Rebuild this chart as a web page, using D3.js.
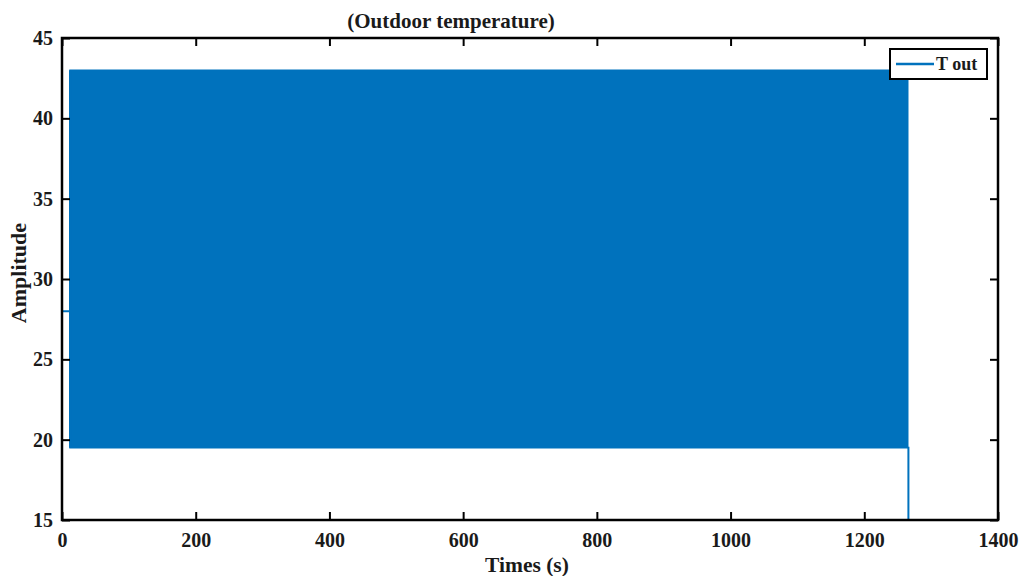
<!DOCTYPE html>
<html>
<head>
<meta charset="utf-8">
<script src="https://cdn.jsdelivr.net/npm/d3@7"></script>
<style>
  body { margin: 0; background: #fff; }
  text { font-family: "Liberation Serif", "Times New Roman", serif; font-weight: bold; }
</style>
</head>
<body>
<script>
// ---- data ----
const xTicks = [0, 200, 400, 600, 800, 1000, 1200, 1400]
const yTicks = [15, 20, 25, 30, 35, 40, 45]

// T out trace: start level, then fast oscillation between two levels, then drop
const lineTime = [0, 12, 12, 12]
const lineValue = [28, 28, 43, 19.5]
// oscillation band (signal switches too fast to separate single cycles)
const bandTime = [12, 1265]
const bandLow = [19.5, 19.5]
const bandHigh = [43, 43]
// tail of the trace
const tailTime = [1265, 1266, 1266]
const tailValue = [19.5, 19.5, 10]

const margin = { top: 38, right: 23, bottom: 56, left: 62 },
    width = 1021 - margin.left - margin.right,
    height = 576 - margin.top - margin.bottom

const color = '#0072BD'
const ink = '#1a1a1a'

const svg = d3.select('body').append('svg')
    .attr('width', 1021)
    .attr('height', 576)

const g = svg.append('g')
    .attr('transform', 'translate(' + margin.left + ',' + margin.top + ')')

const x = d3.scaleLinear().domain([0, 1400]).range([0, width])
const y = d3.scaleLinear().domain([15, 45]).range([height, 0])

g.append('clipPath').attr('id', 'clip')
    .append('rect').attr('width', width).attr('height', height)

const plot = g.append('g').attr('clip-path', 'url(#clip)')

// band
const band = bandTime.map((t, i) => ({ t: t, lo: bandLow[i], hi: bandHigh[i] }))
plot.append('path')
    .datum(band)
    .attr('fill', color)
    .attr('stroke', color)
    .attr('stroke-width', 1.5)
    .attr('d', d3.area().x(d => x(d.t)).y0(d => y(d.lo)).y1(d => y(d.hi)))

const line = d3.line().x(d => x(d[0])).y(d => y(d[1]))
plot.append('path')
    .datum(lineTime.map((t, i) => [t, lineValue[i]]))
    .attr('fill', 'none')
    .attr('stroke', color)
    .attr('stroke-width', 2)
    .attr('d', line)
plot.append('path')
    .datum(tailTime.map((t, i) => [t, tailValue[i]]))
    .attr('fill', 'none')
    .attr('stroke', color)
    .attr('stroke-width', 2)
    .attr('d', line)

// axes: ticks inside, on all four sides
const tickLen = 8
g.append('g')
    .attr('transform', 'translate(0,' + height + ')')
    .call(d3.axisBottom(x).tickValues(xTicks).tickFormat(d3.format('d'))
        .tickSizeInner(-tickLen).tickSizeOuter(0).tickPadding(13))
g.append('g')
    .call(d3.axisTop(x).tickValues(xTicks).tickSizeInner(-tickLen).tickSizeOuter(0).tickFormat(''))
g.append('g')
    .call(d3.axisLeft(y).tickValues(yTicks).tickFormat(d3.format('d'))
        .tickSizeInner(-tickLen).tickSizeOuter(0).tickPadding(9))
g.append('g')
    .attr('transform', 'translate(' + width + ',0)')
    .call(d3.axisRight(y).tickValues(yTicks).tickSizeInner(-tickLen).tickSizeOuter(0).tickFormat(''))

g.selectAll('.domain').remove()
g.selectAll('.tick line').attr('stroke', '#000').attr('stroke-width', 2)
g.selectAll('.tick text').attr('font-size', 20).attr('fill', ink)
    .attr('font-family', '"Liberation Serif", serif').attr('font-weight', 'bold')

g.append('rect')
    .attr('width', width).attr('height', height)
    .attr('fill', 'none').attr('stroke', '#000').attr('stroke-width', 2.5)

// title and labels
svg.append('text')
    .attr('x', 451).attr('y', 28)
    .attr('text-anchor', 'middle').attr('font-size', 21).attr('fill', ink)
    .text('(Outdoor temperature)')
svg.append('text')
    .attr('x', 527).attr('y', 572)
    .attr('text-anchor', 'middle').attr('font-size', 21.5).attr('fill', ink)
    .text('Times (s)')
svg.append('text')
    .attr('transform', 'translate(26,273) rotate(-90)')
    .attr('text-anchor', 'middle').attr('font-size', 22).attr('fill', ink)
    .text('Amplitude')

// legend
const legend = g.append('g').attr('transform', 'translate(' + (width - 108) + ',11)')
legend.append('rect')
    .attr('width', 97).attr('height', 30)
    .attr('fill', '#fff').attr('stroke', '#000').attr('stroke-width', 2)
legend.append('line')
    .attr('x1', 6).attr('x2', 44).attr('y1', 15).attr('y2', 15)
    .attr('stroke', color).attr('stroke-width', 2.5)
legend.append('text')
    .attr('x', 46).attr('y', 21)
    .attr('font-size', 18).attr('fill', ink)
    .text('T out')
</script>
</body>
</html>
